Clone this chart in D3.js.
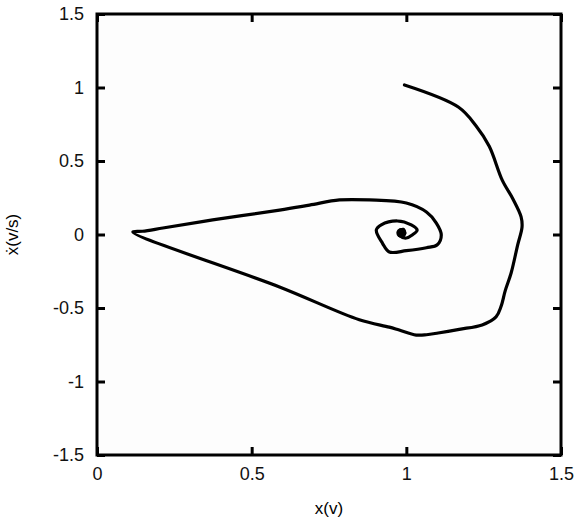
<!DOCTYPE html>
<html>
<head>
<meta charset="utf-8">
<script src="https://cdn.jsdelivr.net/npm/d3@7"></script>
<style>
  body { margin: 0; background: #fff; }
  text { font-family: "Liberation Sans", Arial, sans-serif; }
</style>
</head>
<body>
<script>
// phase portrait: x (v) and xdot (v/s)
let xs = [0.994, 1.168, 1.225, 1.268, 1.31, 1.345, 1.371, 1.374, 1.36, 1.339, 1.32, 1.306, 1.29,
  1.245, 1.171, 1.103, 1.065, 1.032, 0.977, 0.945, 0.848, 0.59, 0.116,
  0.147, 0.213, 0.374, 0.59, 0.687, 0.784, 0.881, 1.0, 1.065, 1.097, 1.113, 1.1, 1.065, 1.0,
  0.945, 0.923, 0.903, 0.919, 0.971, 1.016, 1.035, 1.019, 1.0, 0.98, 0.975, 0.99, 0.995];
let vs = [1.017, 0.867, 0.74, 0.6, 0.37, 0.24, 0.12, 0.05, -0.07, -0.26, -0.38, -0.49, -0.56,
  -0.615, -0.645, -0.67, -0.682, -0.684, -0.65, -0.63, -0.58, -0.357, 0.017,
  0.022, 0.044, 0.099, 0.166, 0.2, 0.235, 0.235, 0.214, 0.153, 0.078, -0.003, -0.07, -0.09, -0.11,
  -0.119, -0.06, 0.03, 0.065, 0.092, 0.065, 0.03, -0.003, -0.024, -0.01, 0.02, 0.035, 0.01];
let xTicks = [0, 0.5, 1, 1.5];
let yTicks = [-1.5, -1, -0.5, 0, 0.5, 1, 1.5];

let svg = d3.select('body')
  .append('svg')
  .attr('width', 582)
  .attr('height', 520);

let mLeft = 97, mRight = 561, mTop = 14, mBottom = 455;

let x = d3.scaleLinear().domain([0, 1.5]).range([mLeft, mRight]);
let y = d3.scaleLinear().domain([-1.5, 1.5]).range([mBottom, mTop]);

svg.append('rect')
  .attr('x', mLeft).attr('y', mTop)
  .attr('width', mRight - mLeft).attr('height', mBottom - mTop)
  .attr('fill', '#fdfdfd');

// inside ticks on all four sides, plain hyphen for negatives
let tickLen = 8;
let fmt = d => String(d);
svg.append('g').attr('transform', `translate(0,${mBottom})`)
  .call(d3.axisBottom(x).tickValues(xTicks).tickSize(-tickLen).tickPadding(12).tickFormat(fmt));
svg.append('g').attr('transform', `translate(0,${mTop})`)
  .call(d3.axisTop(x).tickValues(xTicks).tickSize(-tickLen).tickFormat(''));
svg.append('g').attr('transform', `translate(${mLeft},0)`)
  .call(d3.axisLeft(y).tickValues(yTicks).tickSize(-tickLen).tickPadding(13).tickFormat(fmt));
svg.append('g').attr('transform', `translate(${mRight},0)`)
  .call(d3.axisRight(y).tickValues(yTicks).tickSize(-tickLen).tickFormat(''));

svg.selectAll('.domain').remove();
svg.selectAll('.tick line').attr('stroke', '#000').attr('stroke-width', 3);
svg.selectAll('.tick text').attr('font-size', 18).attr('fill', '#111');

svg.append('rect')
  .attr('x', mLeft).attr('y', mTop)
  .attr('width', mRight - mLeft).attr('height', mBottom - mTop)
  .attr('fill', 'none').attr('stroke', '#000').attr('stroke-width', 3);

let line = d3.line()
  .x(d => x(d[0]))
  .y(d => y(d[1]))
  .curve(d3.curveCatmullRom);

let pts = xs.map((d, i) => [d, vs[i]]);

svg.append('path')
  .attr('d', line(pts))
  .attr('fill', 'none')
  .attr('stroke', '#000')
  .attr('stroke-width', 3.2)
  .attr('stroke-linejoin', 'round')
  .attr('stroke-linecap', 'round');

svg.append('circle')
  .attr('cx', x(0.984)).attr('cy', y(0.01))
  .attr('r', 5).attr('fill', '#000');

svg.append('text')
  .attr('x', (mLeft + mRight) / 2).attr('y', 514)
  .attr('text-anchor', 'middle').attr('font-size', 17)
  .text('x(v)');

svg.append('text')
  .attr('transform', `translate(18,${y(0)}) rotate(-90)`)
  .attr('text-anchor', 'middle').attr('font-size', 17)
  .text('ẋ(v/s)');
</script>
</body>
</html>
